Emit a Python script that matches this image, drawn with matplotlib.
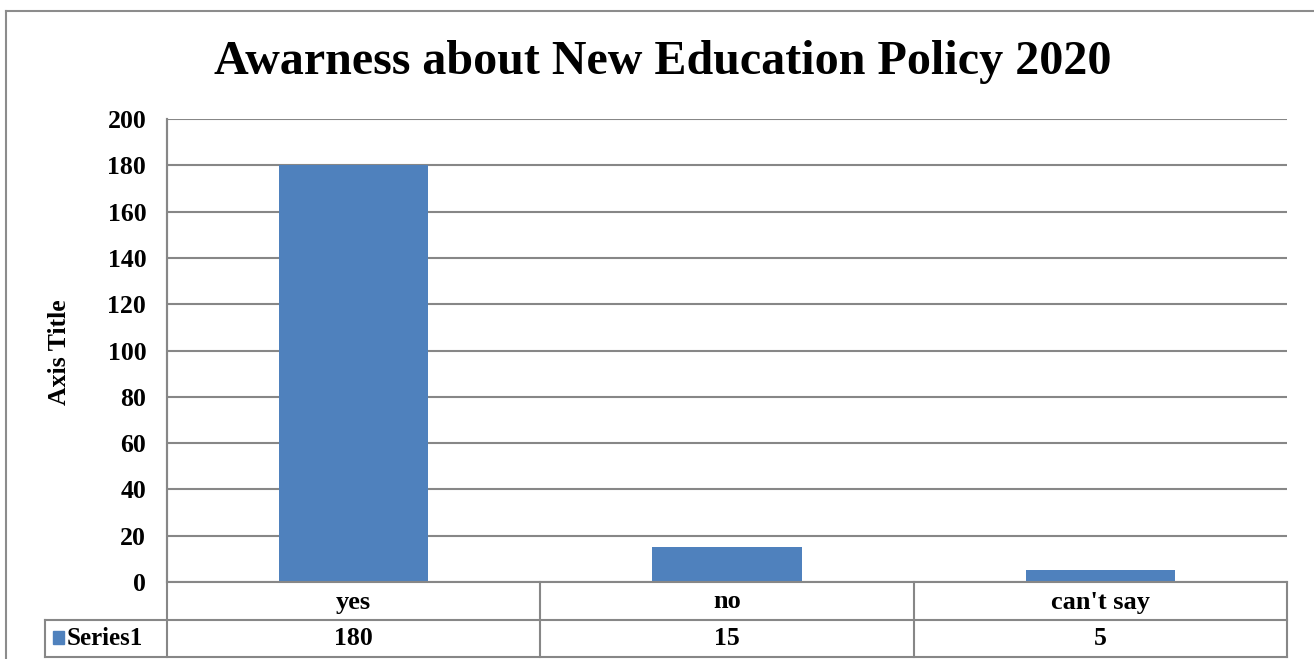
import matplotlib
matplotlib.use("Agg")
import matplotlib.pyplot as plt
from matplotlib.lines import Line2D
from matplotlib.patches import Rectangle

categories = ["yes", "no", "can't say"]
series_name = "Series1"
values = [180, 15, 5]
yticks = [0, 20, 40, 60, 80, 100, 120, 140, 160, 180, 200]
title = "Awarness about New Education Policy 2020"
y_label = "Axis Title"

W, H = 1314, 659
plt.rcParams['font.family'] = ['Liberation Serif', 'DejaVu Serif']
plt.rcParams['font.weight'] = 'bold'

fig = plt.figure(figsize=(W / 100, H / 100), dpi=100)
fig.patch.set_facecolor('white')

def fx(px):
    return px / W

def fy(py):
    return 1 - py / H

grid_c = '#878787'
bar_c = '#4F81BD'

left, right, top, bottom = 167, 1287, 119, 582
ax = fig.add_axes([fx(left), fy(bottom), fx(right - left), (bottom - top) / H])
x = list(range(len(categories)))
ax.bar(x, values, width=0.4, color=bar_c, zorder=2)
ax.set_xlim(-0.5, len(categories) - 0.5)
ax.set_ylim(0, 200)
ax.set_yticks(yticks)
ax.set_yticklabels([str(t) for t in yticks], fontsize=18.5, fontweight='bold')
ax.tick_params(axis='y', length=0, pad=15)
ax.set_xticks([])
ax.yaxis.grid(True, color=grid_c, linewidth=1.5, zorder=0)
ax.set_axisbelow(True)
for s in ['top', 'right', 'bottom']:
    ax.spines[s].set_visible(False)
ax.spines['left'].set_color(grid_c)
ax.spines['left'].set_linewidth(1.5)

# outer border (left and top)
fig.add_artist(Line2D([fx(6), fx(6)], [fy(11), 0], transform=fig.transFigure, color='#8c8c8c', lw=1.5))
fig.add_artist(Line2D([fx(6), 1], [fy(11), fy(11)], transform=fig.transFigure, color='#8c8c8c', lw=1.5))

fig.text(fx(663), fy(62), title, ha='center', va='center', fontsize=34.6, fontweight='bold')
fig.text(fx(60), fy(352), y_label, ha='center', va='center', rotation=90, fontsize=18.5, fontweight='bold')

# data table
row1_top, row1_bot, row2_bot = 582, 620, 657
col_w = (right - left) / len(categories)
cols = [left + i * col_w for i in range(len(categories) + 1)]
lc = '#878787'
def hline(x0, x1, y):
    fig.add_artist(Line2D([fx(x0), fx(x1)], [fy(y), fy(y)], transform=fig.transFigure, color=lc, lw=1.5))
def vline(x0, y0, y1):
    fig.add_artist(Line2D([fx(x0), fx(x0)], [fy(y0), fy(y1)], transform=fig.transFigure, color=lc, lw=1.5))

hline(left, right, row1_top)
hline(45, right, row1_bot)
hline(45, right, row2_bot)
vline(left, top, row2_bot)
for c in cols[1:]:
    vline(c, row1_top, row2_bot)
vline(45, row1_bot, row2_bot)

for i, cat in enumerate(categories):
    cx = (cols[i] + cols[i + 1]) / 2
    fig.text(fx(cx), fy((row1_top + row1_bot) / 2 + 1), cat, ha='center', va='center', fontsize=19, fontweight='bold')
    fig.text(fx(cx), fy((row1_bot + row2_bot) / 2), str(values[i]), ha='center', va='center', fontsize=18.5, fontweight='bold')

fig.add_artist(Rectangle((fx(53), fy(644)), fx(11), 13 / H, transform=fig.transFigure, color=bar_c))
fig.text(fx(67), fy((row1_bot + row2_bot) / 2), series_name, ha='left', va='center', fontsize=18, fontweight='bold')

fig.savefig('out.png', dpi=100)
